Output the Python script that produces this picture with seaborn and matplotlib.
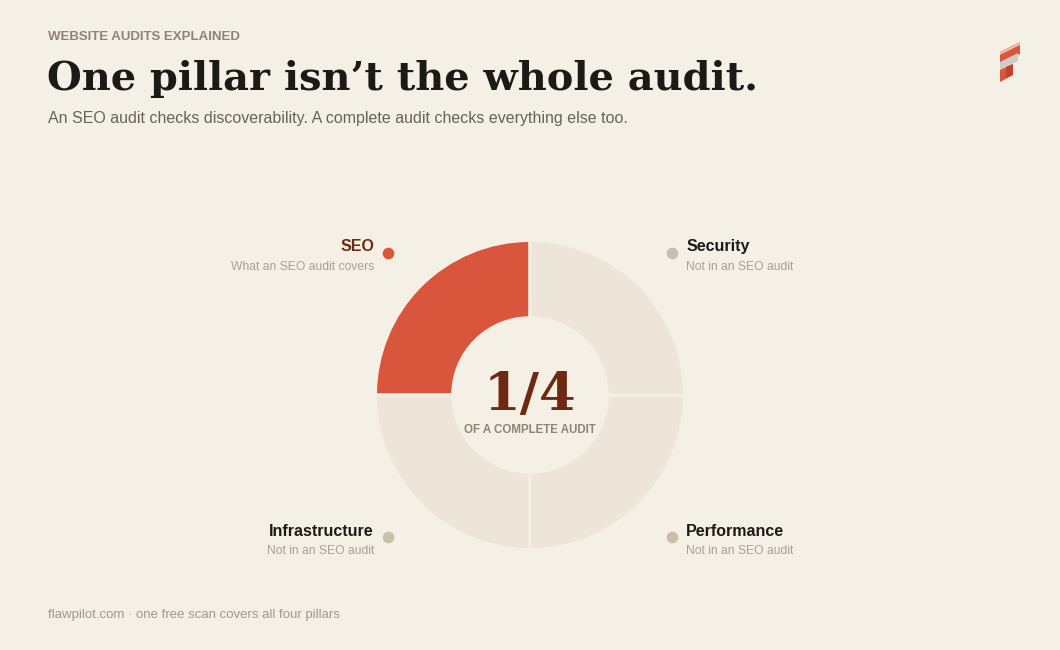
import numpy as np
import pandas as pd
import seaborn as sns
import matplotlib.pyplot as plt
from matplotlib.patches import Polygon

# data
pillars = ["SEO", "Infrastructure", "Performance", "Security"]
shares = [1, 1, 1, 1]
notes = ["What an SEO audit covers", "Not in an SEO audit", "Not in an SEO audit", "Not in an SEO audit"]
in_seo = [True, False, False, False]
center_big = "1/4"
center_small = "OF A COMPLETE AUDIT"

BG = "#f5f0e6"
RED = "#d9553b"
LIGHT = "#ede5d9"
DARKRED = "#6e2912"
DOT_GREY = "#c9bfa9"

sns.set_theme(style="white")
plt.rcParams["font.family"] = ["Liberation Sans", "DejaVu Sans"]

df = pd.DataFrame({"pillar": pillars, "share": shares, "note": notes, "seo": in_seo})

fig = plt.figure(figsize=(10.6, 6.5), dpi=100, facecolor=BG)

# header
fig.text(48 / 1060, 1 - 37 / 650, "WEBSITE AUDITS EXPLAINED", fontsize=9.5, fontweight="bold",
         color="#8c8474", va="center", ha="left")
fig.text(47 / 1060, 1 - 79 / 650, "One pillar isn\u2019t the whole audit.", family="DejaVu Serif",
         fontsize=28.7, fontweight="bold", color="#1c1a17", va="center", ha="left")
fig.text(48 / 1060, 1 - 119 / 650, "An SEO audit checks discoverability. A complete audit checks everything else too.",
         fontsize=11.5, color="#66625c", va="center", ha="left")
fig.text(48 / 1060, 1 - 615 / 650, "flawpilot.com \u00b7 one free scan covers all four pillars",
         fontsize=9.5, color="#9e978d", va="center", ha="left")


# logo (small isometric blocks)
def px(x, y):
    return (x / 1060, 1 - y / 650)


logo = [
    ([(1000, 52), (1020, 42), (1020, 54), (1000, 64)], RED),
    ([(1000, 52), (1020, 42), (1020, 45), (1000, 55)], "#f4b6a8"),
    ([(1000, 62), (1018, 53), (1018, 61), (1000, 70)], "#cfcbc6"),
    ([(1000, 70), (1013, 64), (1013, 75), (1000, 82)], RED),
    ([(1006, 67), (1013, 64), (1013, 75), (1006, 78)], "#c2432c"),
]
for pts, c in logo:
    fig.add_artist(Polygon([px(*p) for p in pts], closed=True, transform=fig.transFigure,
                           facecolor=c, edgecolor="none"))

# donut
ax = fig.add_axes([(530 - 170) / 1060, (650 - 395 - 170) / 650, 340 / 1060, 340 / 650])
ax.set_facecolor(BG)
colors = [RED if s else LIGHT for s in df["seo"]]
wedges, _ = ax.pie(df["share"], startangle=90, counterclock=True, colors=colors,
                   wedgeprops=dict(width=0.5, edgecolor=BG, linewidth=2.2))
ax.set_xlim(-1.1, 1.1)
ax.set_ylim(-1.1, 1.1)
ax.set_aspect("equal")
ax.axis("off")

ax.text(0, -0.095, center_big, family="DejaVu Serif", fontsize=38, fontweight="bold",
        color=DARKRED, ha="center", va="baseline")
ax.text(0, -0.225, center_small, fontsize=8.3, fontweight="bold", color="#8c8474",
        ha="center", va="center")

# labels around the ring
for w, (_, row) in zip(wedges, df.iterrows()):
    ang = np.deg2rad((w.theta1 + w.theta2) / 2)
    dx, dy = 1.3 * np.cos(ang), 1.3 * np.sin(ang)
    ax.scatter([dx], [dy], s=70, color=RED if row["seo"] else DOT_GREY, clip_on=False, zorder=3,
               linewidths=0)
    side = 1 if dx > 0 else -1
    ha = "left" if side > 0 else "right"
    ax.annotate(row["pillar"], (dx, dy), xytext=(14 * side, 6), textcoords="offset pixels",
                ha=ha, va="center", fontsize=11.5, fontweight="bold",
                color=DARKRED if row["seo"] else "#1c1a17", annotation_clip=False)
    ax.annotate(row["note"], (dx, dy), xytext=(14 * side, -14), textcoords="offset pixels",
                ha=ha, va="center", fontsize=8.7, color="#a8a095", annotation_clip=False)

fig.savefig("out.png", dpi=100, facecolor=BG)
